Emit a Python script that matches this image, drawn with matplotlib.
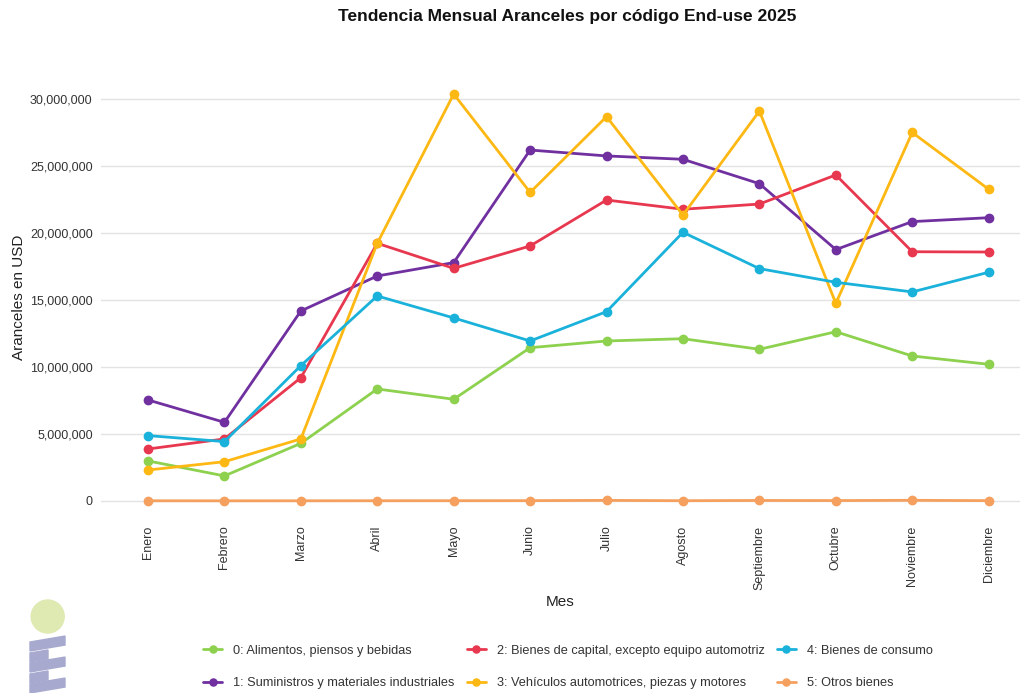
import numpy as np
import matplotlib
matplotlib.use("Agg")
import matplotlib.pyplot as plt
from matplotlib.ticker import FuncFormatter
from matplotlib.patches import Circle, Polygon

plt.rcParams['font.family'] = ['Liberation Sans', 'DejaVu Sans']

# --- data ---
meses = ['Enero', 'Febrero', 'Marzo', 'Abril', 'Mayo', 'Junio', 'Julio',
         'Agosto', 'Septiembre', 'Octubre', 'Noviembre', 'Diciembre']

alimentos = [2990000, 1870000, 4300000, 8360000, 7590000, 11440000,
             11940000, 12110000, 11320000, 12630000, 10820000, 10200000]
suministros = [7540000, 5870000, 14180000, 16790000, 17790000, 26190000,
               25750000, 25500000, 23680000, 18760000, 20850000, 21140000]
capital = [3880000, 4630000, 9200000, 19230000, 17360000, 19030000,
           22460000, 21770000, 22160000, 24330000, 18600000, 18580000]
vehiculos = [2310000, 2930000, 4630000, 19230000, 30370000, 23030000,
             28680000, 21340000, 29100000, 14750000, 27500000, 23260000]
consumo = [4880000, 4430000, 10100000, 15300000, 13660000, 11940000,
           14130000, 20050000, 17340000, 16320000, 15600000, 17070000]
otros = [15000, 12000, 14000, 18000, 20000, 25000,
         45000, 20000, 38000, 30000, 50000, 25000]

series_names = ['0: Alimentos, piensos y bebidas',
                '1: Suministros y materiales industriales',
                '2: Bienes de capital, excepto equipo automotriz',
                '3: Vehículos automotrices, piezas y motores',
                '4: Bienes de consumo',
                '5: Otros bienes']
series_vals = [alimentos, suministros, capital, vehiculos, consumo, otros]
colores = ['#8DD14F', '#7030A0', '#E8384F', '#FDB813', '#1AB2DA', '#F5A05E']

W, H = 1021, 693
fig = plt.figure(figsize=(W / 100, H / 100), dpi=100)

# axes placed in pixel coordinates of the reference
left, right, top, bottom = 101, 1020, 75, 520
ax = fig.add_axes([left / W, 1 - bottom / H, (right - left) / W, (bottom - top) / H])

x = np.arange(len(meses))
for name, vals, c in zip(series_names, series_vals, colores):
    ax.plot(x, vals, color=c, lw=2.0, marker='o', ms=6, label=name,
            solid_capstyle='round', zorder=3)

ax.set_xlim(-0.615, 11.41)
ax.set_ylim(-1420000, 31790000)
ax.set_yticks(np.arange(0, 30000001, 5000000))
ax.yaxis.set_major_formatter(FuncFormatter(lambda v, p: f'{int(v):,}'))
ax.set_xticks(x)
ax.set_xticklabels(meses, rotation=90, va='top', ha='center')

ax.grid(axis='y', color='#e3e3e3', lw=1.0)
ax.set_axisbelow(True)
for s in ax.spines.values():
    s.set_visible(False)
ax.tick_params(axis='both', length=0, labelsize=9, labelcolor='#333333')
ax.tick_params(axis='x', pad=4)
ax.tick_params(axis='y', pad=6)

ax.set_ylabel('Aranceles en USD', fontsize=11, color='#222222', labelpad=3)
ax.set_xlabel('Mes', fontsize=11, color='#222222', labelpad=4)

fig.text(567 / W, 1 - 17 / H, 'Tendencia Mensual Aranceles por código End-use 2025',
         ha='center', va='center', fontsize=12.5, fontweight='bold', color='#111111')

leg = fig.legend(loc='center', bbox_to_anchor=(568 / W, 1 - 667 / H), ncol=3,
                 frameon=False, fontsize=9.2, handlelength=1.5, markerscale=0.85,
                 columnspacing=0.95, handletextpad=0.85, labelspacing=1.6)
for t in leg.get_texts():
    t.set_color('#333333')

# logo bottom-left
lg = fig.add_axes([0, 0, 100 / W, 103 / H])
lg.set_xlim(0, 100)
lg.set_ylim(693, 590)
lg.axis('off')
lg.add_patch(Circle((47.7, 616.5), 16.5, color='#dfe9b2'))
bar_col = '#a7a9cf'
bars = [(642, 65), (653, 48), (663, 65), (674, 48), (684, 65)]
for ytop, xr in bars:
    rise = (xr - 30) * 0.17
    lg.add_patch(Polygon([(30, ytop), (xr, ytop - rise), (xr, ytop - rise + 9),
                          (30, ytop + 9)], closed=True, color=bar_col))

fig.savefig('out.png', dpi=100)
